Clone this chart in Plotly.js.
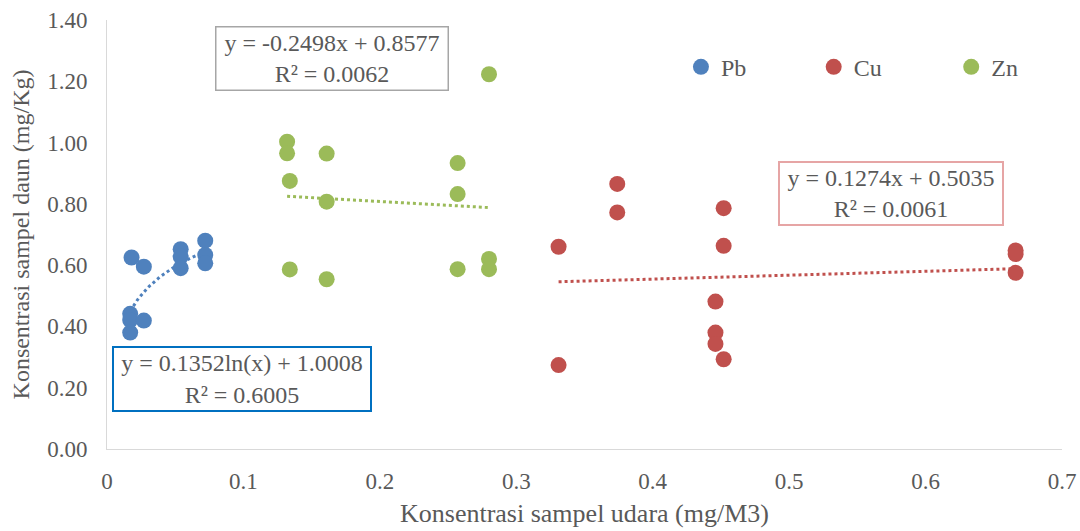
<!DOCTYPE html>
<html>
<head>
<meta charset="utf-8">
<script src="https://cdn.plot.ly/plotly-3.0.1.min.js"></script>
<style>html,body{margin:0;padding:0;background:#fff}#chart{width:1080px;height:531px}</style>
</head>
<body>
<div id="chart"></div>
<script>
// ---- data ----
const pbX = [0.018, 0.027, 0.054, 0.054, 0.054, 0.072, 0.072, 0.072, 0.017, 0.017, 0.017, 0.027];
const pbY = [0.625, 0.595, 0.652, 0.628, 0.590, 0.680, 0.633, 0.606, 0.441, 0.421, 0.380, 0.419];

const cuX = [0.374, 0.374, 0.331, 0.331, 0.452, 0.452, 0.446, 0.446, 0.446, 0.452, 0.666, 0.666, 0.666];
const cuY = [0.865, 0.772, 0.660, 0.274, 0.786, 0.663, 0.481, 0.380, 0.343, 0.293, 0.648, 0.636, 0.575];

const znX = [0.280, 0.132, 0.132, 0.134, 0.134, 0.161, 0.161, 0.161, 0.257, 0.257, 0.257, 0.280, 0.280];
const znY = [1.223, 1.003, 0.965, 0.875, 0.586, 0.964, 0.807, 0.554, 0.933, 0.832, 0.587, 0.620, 0.587];

// trendline coefficients as printed on the chart
const pbTrend = {a: 0.1352, b: 1.0008};   // y = a ln(x) + b
const cuTrend = {m: 0.1274, c: 0.5035};   // y = m x + c
const znTrend = {m: -0.2498, c: 0.8577};

const seriesNames = ['Pb', 'Cu', 'Zn'];
const eqPb = ['y = 0.1352ln(x) + 1.0008', 'R² = 0.6005'];
const eqCu = ['y = 0.1274x + 0.5035', 'R² = 0.0061'];
const eqZn = ['y = -0.2498x + 0.8577', 'R² = 0.0062'];

const xTitle = 'Konsentrasi sampel udara (mg/M3)';
const yTitle = 'Konsentrasi sampel daun (mg/Kg)';

// ---- styling ----
const colPb = '#4F81BD', colCu = '#C0504D', colZn = '#9BBB59';
const txt = '#595959';
const FONT = "'Liberation Serif', 'Times New Roman', serif";

function span(arr){ return [Math.min(...arr), Math.max(...arr)]; }
function logTrend(xs, t){
  const [lo, hi] = span(xs); const n = 60; const X = [], Y = [];
  for (let i = 0; i <= n; i++){ const x = lo + (hi - lo) * i / n; X.push(x); Y.push(t.a * Math.log(x) + t.b); }
  return {X, Y};
}
function linTrend(xs, t){
  const [lo, hi] = span(xs);
  return {X: [lo, hi], Y: [t.m * lo + t.c, t.m * hi + t.c]};
}

const tp = logTrend(pbX, pbTrend), tc = linTrend(cuX, cuTrend), tz = linTrend(znX, znTrend);

const mk = (c) => ({color: c, size: 16});
const traces = [
  {x: tp.X, y: tp.Y, mode: 'lines', line: {color: colPb, width: 3, dash: 'dot'}, showlegend: false, hoverinfo: 'skip'},
  {x: tz.X, y: tz.Y, mode: 'lines', line: {color: colZn, width: 3, dash: 'dot'}, showlegend: false, hoverinfo: 'skip'},
  {x: tc.X, y: tc.Y, mode: 'lines', line: {color: colCu, width: 3, dash: 'dot'}, showlegend: false, hoverinfo: 'skip'},
  {x: pbX, y: pbY, name: seriesNames[0], mode: 'markers', type: 'scatter', marker: mk(colPb), legend: 'legend'},
  {x: cuX, y: cuY, name: seriesNames[1], mode: 'markers', type: 'scatter', marker: mk(colCu), legend: 'legend2'},
  {x: znX, y: znY, name: seriesNames[2], mode: 'markers', type: 'scatter', marker: mk(colZn), legend: 'legend3'}
];

function eqAnn(lines, x, y, border, bw, w, h){
  return {xref: 'x', yref: 'y', x: x, y: y, xanchor: 'center', yanchor: 'middle',
    text: lines.join('<br>'), showarrow: false, align: 'center',
    font: {family: FONT, size: 24, color: txt}, bgcolor: '#fff',
    bordercolor: border, borderwidth: bw, borderpad: 1, width: w, height: h};
}
function leg(x){
  return {orientation: 'h', x: x, y: 0.89, xanchor: 'left', yanchor: 'middle',
    font: {family: FONT, size: 24, color: txt}, bgcolor: 'rgba(0,0,0,0)', itemwidth: 30};
}

const layout = {
  width: 1080, height: 531,
  margin: {l: 107, r: 18, t: 20, b: 82},
  paper_bgcolor: '#fff', plot_bgcolor: '#fff',
  font: {family: FONT, color: txt, size: 22},
  showlegend: true,
  legend: leg(0.601), legend2: leg(0.740), legend3: leg(0.884),
  xaxis: {range: [0, 0.7], dtick: 0.1, tick0: 0, showgrid: false, zeroline: false,
    showline: true, linecolor: '#D9D9D9', linewidth: 1, ticks: '',
    tickfont: {family: FONT, size: 23, color: txt}, ticklabelstandoff: 11,
    title: {text: xTitle, font: {family: FONT, size: 26, color: txt}, standoff: 11},
    automargin: false, fixedrange: true},
  yaxis: {range: [0, 1.4], dtick: 0.2, tick0: 0, tickformat: '.2f', showgrid: false, zeroline: false,
    showline: true, linecolor: '#D9D9D9', linewidth: 1, ticks: '',
    tickfont: {family: FONT, size: 23, color: txt}, ticklabelstandoff: 14,
    title: {text: yTitle, font: {family: FONT, size: 24, color: txt}, standoff: 10},
    automargin: false, fixedrange: true},
  annotations: [
    eqAnn(eqZn, 0.1646, 1.273, '#A6A6A6', 1.5, 229, 60),
    eqAnn(eqPb, 0.0990, 0.2285, '#0070C0', 2, 254, 60),
    eqAnn(eqCu, 0.5747, 0.834, '#E6A5A5', 2, 220, 59)
  ]
};

Plotly.newPlot('chart', traces, layout, {displayModeBar: false, staticPlot: true});
</script>
</body>
</html>
